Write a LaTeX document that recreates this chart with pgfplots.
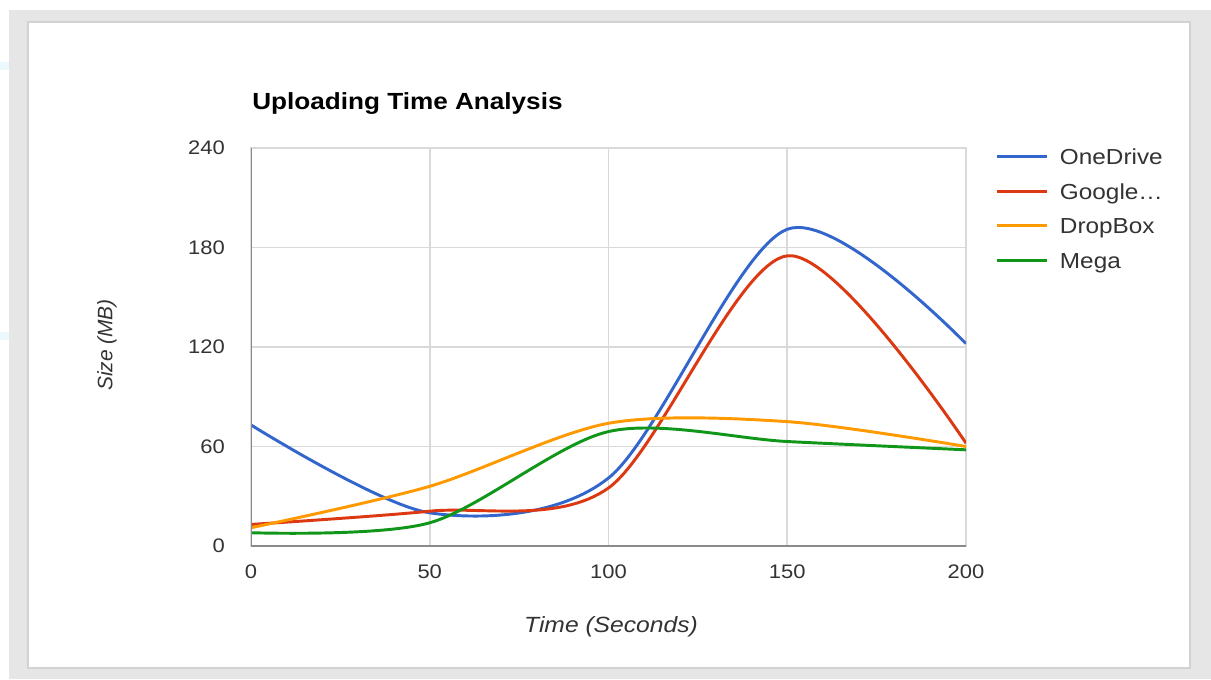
\documentclass[border=0pt]{standalone}
\usepackage{fontspec}
\setmainfont{Liberation Sans}[FakeStretch=1.12]
\newfontfamily\ylabfont{Liberation Sans}
\usepackage{pgfplots}
\pgfplotsset{compat=1.18}

\definecolor{gblue}{HTML}{3366CC}
\definecolor{gred}{HTML}{DC3912}
\definecolor{gorange}{HTML}{FF9900}
\definecolor{ggreen}{HTML}{109618}
\definecolor{gridgray}{HTML}{D9D9D9}
\definecolor{basegray}{HTML}{8A8A8A}
\definecolor{framegray}{HTML}{E6E6E6}
\definecolor{paneledge}{HTML}{D2D2D2}
\definecolor{txt}{HTML}{333333}

% size in MB, sampled every 50 s
\pgfplotstableread{
t onedrive google dropbox mega
0   73  13  11  8
50  20  21  36  14
100 41  35  74  69
150 191 175 75  63
200 122 62  60  58
}\uploads

\begin{document}
\begin{tikzpicture}
% background frame, in reference pixels
\begin{scope}[x=0.75pt,y=0.75pt]
  \fill[white] (0,0) rectangle (1211,679);
  \fill[framegray] (9,0) rectangle (1211,669);
  \fill[cyan!8] (0,609) rectangle (9,617);
  \fill[cyan!8] (0,339) rectangle (9,347);
  \filldraw[fill=white, draw=paneledge, line width=1.1pt] (28,11) rectangle (1190,657);
\end{scope}

\begin{axis}[
  at={(188.25pt,99.75pt)}, anchor=south west,
  scale only axis,
  width=536.25pt, height=298.5pt,
  xmin=0, xmax=200, ymin=0, ymax=240,
  xtick={0,50,...,200},
  ytick={0,60,...,240},
  major tick length=0pt,
  grid=major,
  major grid style={color=gridgray, line width=1.2pt},
  axis line style={draw=gridgray, line width=1.2pt},
  /pgf/number format/assume math mode=true,
  ticklabel style={font=\fontsize{14.7}{16}\selectfont, text=txt, inner sep=0pt},
  yticklabel style={anchor=east, xshift=-19.5pt},
  xticklabel style={anchor=center, yshift=-19.5pt},
  every axis plot/.append style={line width=2.2pt, smooth, no markers},
  legend cell align=left,
  legend image code/.code={\draw[#1, line width=2.2pt, line cap=butt] (0pt,0.2pt) -- (37.5pt,0.2pt);},
  legend style={
    at={(1.0406,1.0207)}, anchor=north west,
    draw=none, fill=none, inner sep=0pt, outer sep=0pt,
    row sep=0pt, column sep=9pt,
    font=\fontsize{16.3}{18}\selectfont,
    nodes={inner sep=0pt, minimum height=25.875pt, text height=11.7pt, text depth=0pt, text=txt},
  },
]
\addplot[gblue] table[x=t, y=onedrive] {\uploads};
\addlegendentry{OneDrive}
\addplot[gred] table[x=t, y=google] {\uploads};
\addlegendentry{Google…}
\addplot[gorange] table[x=t, y=dropbox] {\uploads};
\addlegendentry{DropBox}
\addplot[ggreen] table[x=t, y=mega] {\uploads};
\addlegendentry{Mega}

\draw[basegray, line width=1.5pt] (rel axis cs:0,0) -- (rel axis cs:0,1);
\draw[basegray, line width=1.5pt] (rel axis cs:0,0) -- (rel axis cs:1,0);
\end{axis}

\begin{scope}[x=0.75pt,y=0.75pt]
  \node[anchor=base west, inner sep=0pt, font=\fontsize{17.5}{20}\selectfont\bfseries]
    at (252,569) {Uploading Time Analysis};
  \node[inner sep=0pt, text=txt, font=\fontsize{16.5}{19}\selectfont\itshape]
    at (611,52) {Time (Seconds)};
  \node[inner sep=0pt, text=txt, rotate=90, font=\ylabfont\fontsize{15.7}{18}\selectfont\itshape]
    at (107,334) {Size (MB)};
\end{scope}
\end{tikzpicture}
\end{document}
